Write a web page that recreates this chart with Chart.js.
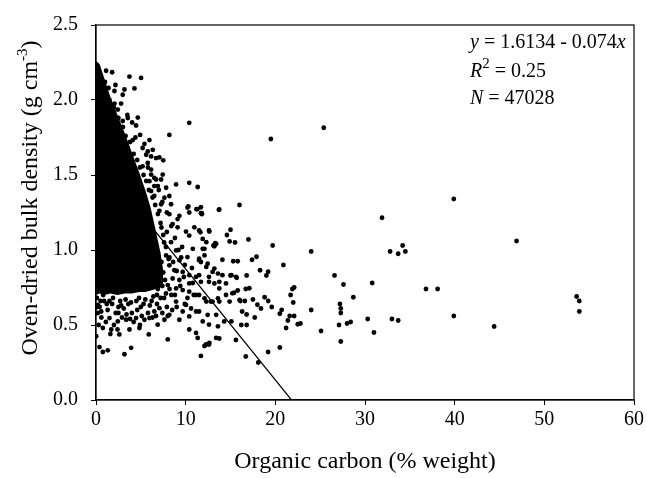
<!DOCTYPE html>
<html>
<head>
<meta charset="utf-8">
<script src="https://cdn.jsdelivr.net/npm/chart.js@4"></script>
<style>
  html, body { margin: 0; background: #fff; }
</style>
</head>
<body>
<canvas id="bdChart" width="647" height="478"></canvas>
<script>
// organic carbon (% weight) and bulk density (g cm-3) of the visible points
const ocX = [
  39.9, 46.9, 36.8, 38.1, 39.9, 44.4, 53.6, 53.9, 53.9,
  25.4, 19.5, 31.9, 34.2, 32.8, 33.7, 34.5, 24.0, 26.6, 27.6, 30.8, 28.7, 27.2, 27.3, 27.3,
  27.1, 28.0, 28.4, 30.3, 33.0, 33.7, 31.0, 25.1, 27.3, 24.0,
  21.9, 22.1, 21.7, 22.0, 20.9, 19.7, 16.0, 13.75, 17.0, 15.0, 14.6, 17.9, 17.4, 18.3, 19.2, 19.0,
  18.8, 19.2, 19.6, 20.5, 20.7, 21.4, 21.6, 22.1, 21.2, 22.5, 22.8, 20.5, 19.2, 18.1, 16.7, 15.6,
  17.7, 16.8, 16.2, 16.8, 18.4, 18.0, 17.5, 16.6, 16.1, 16.7, 17.1, 15.8, 15.4, 16.8, 15.7, 15.0,
  15.3, 15.8, 14.1, 15.5, 14.9, 13.3, 13.2, 12.6, 11.8, 11.7,
  11.5, 11.9, 12.1, 12.3, 11.5, 11.7, 12.45, 13.0, 11.5, 12.6, 13.2, 11.5, 12.3, 13.0, 13.75, 11.5,
  12.45, 13.4, 11.9, 12.6, 13.6, 12.1, 12.6, 13.4, 13.75, 11.7, 14.5, 14.9, 15.2, 16.0, 16.3, 15.1,
  14.3, 13.75, 14.5, 14.1, 15.1, 15.6,
  1.13, 1.8, 3.73, 5.03, 2.17, 2.06, 3.17, 2.98, 4.29, 2.8, 2.06, 1.5, 1.7, 2.43, 3.54, 4.66, 2.98,
  4.03, 4.47, 10.4, 8.18, 4.92, 5.4, 5.96, 4.1, 5.77, 6.33, 6.15, 6.7, 7.07, 7.5, 8.93, 10.4, 11.34,
  7.44, 7.26, 7.82, 6.9, 8.18, 7.63, 7.26, 8.37, 7.07, 8.18, 9.1, 10.3, 10.4, 11.2, 11.7, 13.7,
  6.5, 6.15, 6.5, 5.96, 6.7, 6.15, 5.77, 5.2, 6.15, 5.6,
  10.2, 11.3, 11.8, 9.3, 8.55, 9.1, 10.04, 10.4, 11.64, 12.64, 10.97, 13.4, 13.1, 11.9, 12.1, 10.8,
  10.2, 11.5, 12.3, 13.2, 13.6, 12.6, 13.75, 8.37, 8.93, 7.82, 9.3, 8.18, 8.74, 9.67, 10.4, 11.16,
  11.7, 10.4, 8.55, 9.3, 8.0, 8.93, 9.67, 10.4, 11.16, 12.1, 12.8, 13.6, 8.93, 10.04, 11.16, 9.67,
  10.4, 9.3, 8.18, 7.07, 6.5, 7.63, 5.96, 6.88, 10.4, 11.16, 11.34, 12.27, 12.64, 8.0, 5.88, 3.92,
  3.17, 1.31, 0.76, 0.39, 0.02, 0.76, 1.7, 2.6, 3.73, 4.84, 4.47, 5.4, 3.36, 2.43, 1.5, 0.58, 0.2,
  0.1, 0.4, 0.9, 1.3, 1.8, 2.2, 2.7, 3.1, 3.6, 4.0, 4.5, 5.0, 5.5, 6.0, 6.4, 0.6, 1.1, 2.0, 2.9,
  4.2, 5.1, 5.8, 0.3, 1.6, 2.4,
  7.3, 7.5, 7.4, 7.8, 7.2, 8.4, 7.6, 7.3, 7.9, 8.2, 7.7, 9.9, 9.6, 10.7, 10.9, 9.0, 8.5, 7.9, 6.8, 7.4,
  1.0, 1.4, 2.0, 2.5, 3.0, 3.3, 3.8, 4.2, 4.6, 4.9, 5.3, 5.6, 5.9, 6.3, 6.6, 6.9, 7.2, 7.5, 7.8, 8.1,
  3.5, 4.4, 5.2, 5.8, 6.5, 7.0, 7.4, 7.9, 8.4, 8.8, 9.2, 9.5,
  6.9, 7.6, 8.2, 8.8, 9.4, 9.8, 10.2, 10.8, 9.0, 8.6, 9.9, 10.6, 8.0, 6.3, 4.6, 3.4, 2.5, 1.5, 0.8, 0.2,
  0.5, 1.2, 1.9, 2.8, 3.3, 3.9, 4.8, 5.3, 6.2, 6.8, 0.1, 2.5, 3.8, 4.9, 6.7
];
const bdY = [
  1.34, 1.06, 0.74, 0.74, 0.56, 0.49, 0.69, 0.66, 0.59,
  1.815, 1.74, 1.215, 1.03, 0.99, 0.975, 0.99, 0.99, 0.83, 0.77, 0.78, 0.685, 0.64, 0.61, 0.58,
  0.50, 0.51, 0.52, 0.54, 0.54, 0.53, 0.45, 0.46, 0.39, 0.60,
  0.74, 0.75, 0.70, 0.65, 0.90, 1.03, 1.30, 1.27, 1.07, 1.135, 1.10, 0.955, 0.935, 0.865, 0.855, 0.83,
  0.685, 0.66, 0.62, 0.575, 0.60, 0.53, 0.56, 0.56, 0.48, 0.505, 0.51, 0.35, 0.32, 0.25, 0.29, 0.40,
  0.55, 0.57, 0.50, 0.50, 0.61, 0.635, 0.67, 0.66, 0.66, 0.74, 0.745, 0.73, 0.715, 0.83, 0.815, 0.83,
  0.925, 0.925, 0.935, 1.05, 1.057, 1.045, 1.025, 1.13, 1.245, 1.285,
  1.13, 1.074, 1.008, 1.052, 0.942, 0.92, 0.909, 0.854, 0.832, 0.788, 0.777, 0.70, 0.656, 0.656, 0.656, 0.59,
  0.568, 0.568, 0.524, 0.503, 0.491, 0.36, 0.37, 0.414, 0.41, 0.294, 0.70, 0.656, 0.711, 0.667, 0.59, 0.524,
  0.524, 0.744, 0.777, 0.832, 0.832, 0.821,
  2.195, 2.185, 2.156, 2.147, 2.10, 2.06, 2.07, 2.035, 2.077, 1.976, 1.976, 2.0, 1.92, 1.936, 1.88, 1.883, 1.86,
  1.85, 1.83, 1.848, 1.767, 1.767, 1.707, 1.733, 1.733, 1.657, 1.668, 1.624, 1.613, 1.617, 1.598, 1.437, 1.448, 1.42,
  1.503, 1.47, 1.415, 1.426, 1.36, 1.349, 1.305, 1.305, 1.261, 1.239, 1.206, 1.29, 1.25, 1.272, 1.245, 1.268,
  1.36, 1.393, 1.426, 1.459, 1.47, 1.503, 1.58, 1.558, 1.536, 1.635,
  1.283, 1.272, 1.239, 1.228, 1.173, 1.151, 1.123, 1.096, 1.118, 1.123, 1.151, 1.041, 1.03, 1.008, 0.964, 1.008,
  0.953, 0.931, 0.887, 0.876, 0.843, 0.821, 0.788, 1.052, 0.997, 0.964, 0.931, 0.898, 0.865, 0.854, 0.832, 0.821,
  0.788, 0.777, 0.81, 0.80, 0.766, 0.744, 0.733, 0.722, 0.70, 0.678, 0.656, 0.678, 0.656, 0.634, 0.59, 0.59,
  0.557, 0.535, 0.568, 0.612, 0.59, 0.535, 0.546, 0.502, 0.47, 0.447, 0.414, 0.37, 0.381, 0.404, 0.437, 0.348,
  0.305, 0.331, 0.32, 0.353, 0.425, 0.48, 0.47, 0.437, 0.47, 0.48, 0.546, 0.535, 0.535, 0.524, 0.546, 0.59, 0.634,
  0.68, 0.62, 0.66, 0.60, 0.64, 0.58, 0.66, 0.61, 0.64, 0.58, 0.66, 0.62, 0.67, 0.63, 0.69, 0.55, 0.52, 0.50, 0.55,
  0.52, 0.56, 0.58, 0.50, 0.44, 0.47,
  0.92, 0.85, 0.76, 0.71, 0.68, 0.70, 1.05, 1.15, 1.12, 0.95, 0.80, 0.90, 1.02, 0.88, 0.70, 0.62, 0.60, 0.62, 0.64, 0.58,
  2.12, 2.08, 1.95, 1.88, 1.82, 1.76, 1.72, 1.64, 1.60, 1.55, 1.50, 1.46, 1.40, 1.35, 1.30, 1.24, 1.18, 1.10, 1.02, 0.94,
  1.90, 1.75, 1.68, 1.55, 1.48, 1.40, 1.32, 1.25, 1.16, 1.08, 1.00, 0.95,
  0.74, 0.68, 0.74, 0.70, 0.76, 0.82, 0.68, 0.78, 0.86, 0.92, 0.64, 0.61, 0.56, 0.55, 0.60, 0.57, 0.62, 0.66, 0.70, 0.58,
  0.66, 0.64, 0.68, 0.63, 0.67, 0.65, 0.68, 0.64, 0.66, 0.70, 0.62, 0.58, 0.54, 0.50, 0.56
];

// outline of the solid black cloud near the y axis (too dense to tell points apart)
const cloudX    = [0,    0.4,  0.9,  1.6,  2.4,  3.2,  4.0,  4.8,  5.5,  6.1,  6.7,  7.2,  7.5,  7.5];
const cloudTop  = [2.26, 2.24, 2.15, 2.02, 1.90, 1.78, 1.65, 1.52, 1.40, 1.28, 1.12, 0.98, 0.86, 0.78];
const cloudBase = [0.70, 0.71, 0.70, 0.71, 0.70, 0.71, 0.71, 0.72, 0.72, 0.73, 0.74, 0.75, 0.77, 0.78];

// regression y = 1.6134 - 0.074x
const fitIntercept = 1.6134;
const fitSlope = -0.074;
const fitX = [0, 21.8];

const xTicks = [0, 10, 20, 30, 40, 50, 60];
const yTicks = [0.0, 0.5, 1.0, 1.5, 2.0, 2.5];

const serif = "'Liberation Serif', 'Times New Roman', serif";

const points = ocX.map((x, i) => ({ x: x, y: bdY[i] }));
const cloudLow = cloudX.map((x, i) => ({ x: x, y: cloudBase[i] }));
const cloudHigh = cloudX.map((x, i) => ({ x: x, y: cloudTop[i] }));
const fitLine = fitX.map(x => ({ x: x, y: fitIntercept + fitSlope * x }));

// frame, y title with superscript, and the equation text
const extras = {
  id: "extras",
  afterDraw(chart) {
    const ctx = chart.ctx;
    const a = chart.chartArea;
    ctx.save();
    ctx.strokeStyle = "#000";
    ctx.lineWidth = 1.2;
    ctx.strokeRect(a.left, a.top, a.right - a.left, a.bottom - a.top);

    ctx.fillStyle = "#000";
    ctx.textBaseline = "alphabetic";
    ctx.textAlign = "left";

    // y axis title
    const big = "24px " + serif;
    const small = "15px " + serif;
    const part1 = "Oven-dried bulk density (g cm";
    const sup = "-3";
    const part2 = ")";
    ctx.font = big;
    const w1 = ctx.measureText(part1).width;
    const w3 = ctx.measureText(part2).width;
    ctx.font = small;
    const w2 = ctx.measureText(sup).width;
    const total = w1 + w2 + w3;
    ctx.save();
    ctx.translate(37, 198);
    ctx.rotate(-Math.PI / 2);
    let x0 = -total / 2;
    ctx.font = big;
    ctx.fillText(part1, x0, 0);
    ctx.font = small;
    ctx.fillText(sup, x0 + w1, -10);
    ctx.font = big;
    ctx.fillText(part2, x0 + w1 + w2, 0);
    ctx.restore();

    // equation block
    const norm = "20px " + serif;
    const ital = "italic 20px " + serif;
    const runs = (list, x, y) => {
      list.forEach(([txt, font, dy]) => {
        ctx.font = font;
        ctx.fillText(txt, x, y + (dy || 0));
        x += ctx.measureText(txt).width;
      });
    };
    runs([["y", ital], [" = 1.6134 - 0.074", norm], ["x", ital]], 470, 48);
    runs([["R", ital], ["2", "15px " + serif, -9], [" = 0.25", norm]], 470, 77);
    runs([["N", ital], [" = 47028", norm]], 470, 104);
    ctx.restore();
  }
};

new Chart(document.getElementById("bdChart"), {
  type: "scatter",
  data: {
    datasets: [
      {
        type: "line",
        data: cloudLow,
        borderWidth: 0,
        borderColor: "rgba(0,0,0,0)",
        pointRadius: 0,
        fill: false
      },
      {
        type: "line",
        data: cloudHigh,
        borderWidth: 0,
        borderColor: "rgba(0,0,0,0)",
        backgroundColor: "#000",
        pointRadius: 0,
        fill: "-1"
      },
      {
        data: points,
        pointRadius: 2.4,
        pointBorderWidth: 0,
        backgroundColor: "#000"
      },
      {
        type: "line",
        data: fitLine,
        borderColor: "#000",
        borderWidth: 1.2,
        pointRadius: 0,
        fill: false
      }
    ]
  },
  options: {
    responsive: false,
    animation: false,
    devicePixelRatio: 1,
    layout: { padding: { left: 0, right: 11, top: 20, bottom: 0 } },
    plugins: {
      legend: { display: false },
      tooltip: { enabled: false }
    },
    scales: {
      x: {
        type: "linear",
        min: 0,
        max: 60,
        afterFit: s => { s.height = 78; },
        afterBuildTicks: s => { s.ticks = xTicks.map(v => ({ value: v })); },
        ticks: {
          color: "#000",
          font: { family: serif, size: 20 },
          padding: 3,
          maxRotation: 0
        },
        grid: { display: true, drawOnChartArea: false, drawTicks: true, tickLength: 5, color: "#000" },
        border: { display: true, color: "#000", width: 1.2 },
        title: {
          display: true,
          text: "Organic carbon (% weight)",
          color: "#000",
          font: { family: serif, size: 24 },
          padding: { top: 0, bottom: 2 }
        }
      },
      y: {
        type: "linear",
        min: 0,
        max: 2.5,
        afterFit: s => { s.width = 96; },
        afterBuildTicks: s => { s.ticks = yTicks.map(v => ({ value: v })); },
        ticks: {
          color: "#000",
          font: { family: serif, size: 20 },
          padding: 13,
          callback: v => v.toFixed(1)
        },
        grid: { display: true, drawOnChartArea: false, drawTicks: true, tickLength: 5, color: "#000" },
        border: { display: true, color: "#000", width: 1.2 }
      }
    }
  },
  plugins: [extras]
});
</script>
</body>
</html>
